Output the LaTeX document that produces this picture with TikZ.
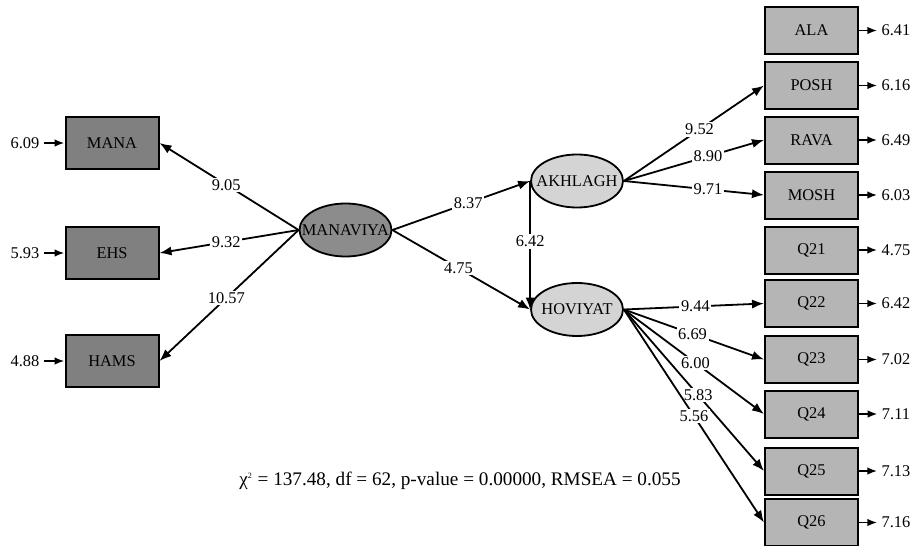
\documentclass[tikz,border=0pt]{standalone}
\usepackage{fontspec}
\setmainfont{Liberation Serif}
\usepackage{tikz}
\usetikzlibrary{arrows.meta,shapes.geometric}

\definecolor{obsdark}{gray}{0.50}
\definecolor{obslight}{gray}{0.71}
\definecolor{latdark}{gray}{0.55}
\definecolor{latlight}{gray}{0.83}

\tikzset{
  obsl/.style={draw,line width=1pt,fill=obsdark,minimum width=46.5pt,minimum height=26pt,inner sep=0pt},
  obsr/.style={draw,line width=1pt,fill=obslight,minimum width=46.5pt,minimum height=23.5pt,inner sep=0pt},
  lat/.style={ellipse,draw,line width=0.9pt,minimum width=46pt,minimum height=26.5pt,inner sep=0pt},
  load/.style={-{Latex[length=6pt,width=4.6pt]},line width=0.9pt},
  errarr/.style={-{Latex[length=5pt,width=3.8pt]},line width=0.9pt},
  coef/.style={fill=white,inner sep=0.8pt},
  errtxt/.style={inner sep=2pt},
}

\begin{document}
\begin{tikzpicture}[x=0.5pt,y=-0.5pt,font=\fontsize{8.2}{9.5}\selectfont]
  \useasboundingbox (0,0) rectangle (912,546);

  % latent variables
  \node[lat,fill=latdark]  (mv) at (345.5,230) {\makebox[0pt]{MANAVIYA}};
  \node[lat,fill=latlight] (ak) at (577,181) {\makebox[0pt]{AKHLAGH}};
  \node[lat,fill=latlight] (hv) at (577,309.5) {\makebox[0pt]{HOVIYAT}};

  % left indicators
  \foreach \nm/\yy/\err in {MANA/143/6.09, EHS/253/5.93, HAMS/361/4.88} {
    \node[obsl] (\nm) at (112,\yy) {\nm};
    \node[errtxt] (e\nm) at (25,\yy) {\err};
    \draw[errarr] (e\nm) -- (\nm);
  }

  % right indicators
  \foreach \nm/\yy/\err in {ALA/30.5/6.41, POSH/85.5/6.16, RAVA/140/6.49, MOSH/195/6.03,
                           Q21/250/4.75, Q22/303.5/6.42, Q23/359.5/7.02, Q24/414/7.11,
                           Q25/471/7.13, Q26/522.5/7.16} {
    \node[obsr] (\nm) at (811.5,\yy) {\nm};
    \node[errtxt] (e\nm) at (896,\yy) {\err};
    \draw[errarr] (\nm) -- (e\nm);
  }

  \path[load] (mv.west) edge node[coef,pos=.52] {9.05} (MANA.east);
  \path[load] (mv.west) edge node[coef,pos=.52] {9.32} (EHS.east);
  \path[load] (mv.west) edge node[coef,pos=.52] {10.57} (HAMS.east);

  \path[load] (mv.east) edge node[coef,pos=.55] {8.37} (ak.west);
  \path[load] (mv.east) edge node[coef,pos=.48] {4.75} (hv.west);
  \path[load] (ak.west) edge node[coef,pos=.47] {6.42} (hv.west);

  \path[load] (ak.east) edge node[coef,pos=.54] {9.52} (POSH.west);
  \path[load] (ak.east) edge node[coef,pos=.6] {8.90} (RAVA.west);
  \path[load] (ak.east) edge node[coef,pos=.6] {9.71} (MOSH.west);

  \path[load] (hv.east) edge node[coef,pos=.51] {9.44} (Q22.west);
  \path[load] (hv.east) edge node[coef,pos=.49] {6.69} (Q23.west);
  \path[load] (hv.east) edge node[coef,pos=.51] {6.00} (Q24.west);
  \path[load] (hv.east) edge node[coef,pos=.53] {5.83} (Q25.west);
  \path[load] (hv.east) edge node[coef,pos=.5] {5.56} (Q26.west);

  \node[font=\fontsize{9.6}{11}\selectfont] (fit) at (460,481)
    {χ\textsuperscript{\scalebox{.6}{2}} = 137.48, df = 62, p-value = 0.00000, RMSEA = 0.055};
\end{tikzpicture}
\end{document}
